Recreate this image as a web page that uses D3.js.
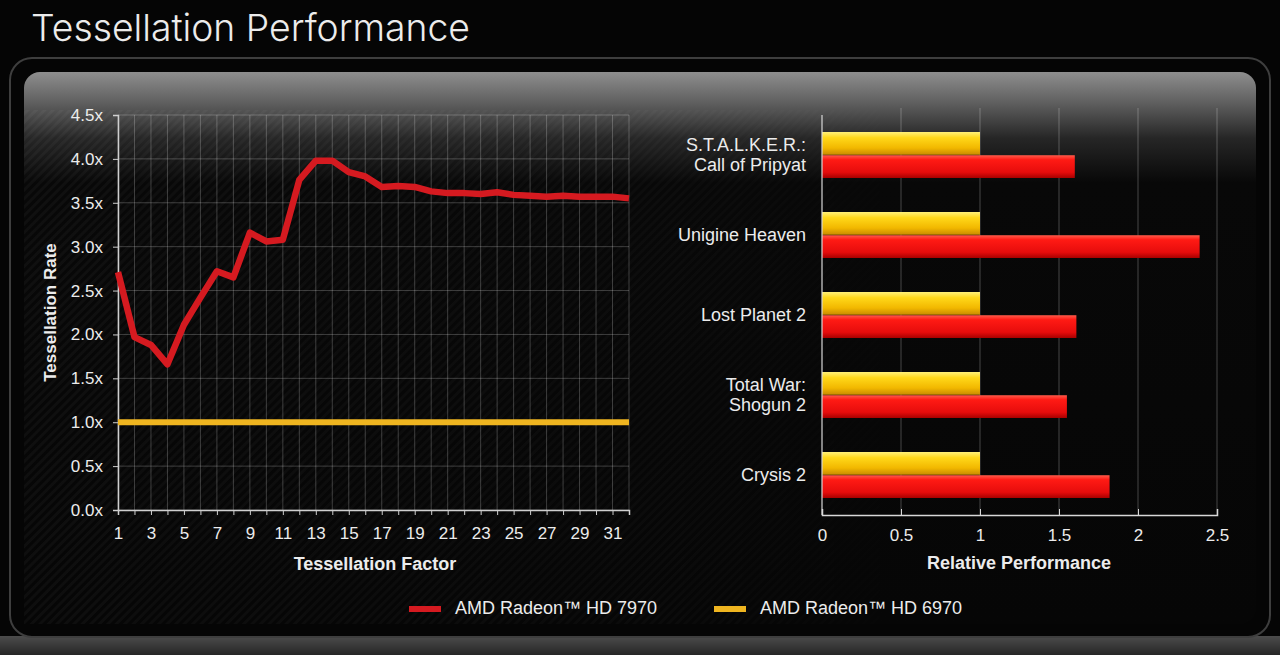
<!DOCTYPE html>
<html>
<head>
<meta charset="utf-8">
<script src="https://cdn.jsdelivr.net/npm/d3@7"></script>
<style>
  html, body { margin: 0; padding: 0; background: #050505; }
  svg { display: block; }
  text { font-family: "Liberation Sans", Arial, sans-serif; fill: #ececec; }
</style>
</head>
<body>
<svg id="chart" width="1280" height="655"></svg>
<script>
// tessellation factor sweep (left panel)
const factors = [1, 2, 3, 4, 5, 6, 7, 8, 9, 10, 11, 12, 13, 14, 15, 16,
  17, 18, 19, 20, 21, 22, 23, 24, 25, 26, 27, 28, 29, 30, 31, 32];
const rate7970 = [2.71, 1.97, 1.88, 1.66, 2.11, 2.42, 2.72, 2.65, 3.16, 3.06, 3.08, 3.76, 3.98, 3.98, 3.85, 3.80,
  3.68, 3.69, 3.68, 3.63, 3.61, 3.61, 3.60, 3.62, 3.59, 3.58, 3.57, 3.58, 3.57, 3.57, 3.57, 3.55];
const rate6970 = [1, 1, 1, 1, 1, 1, 1, 1, 1, 1, 1, 1, 1, 1, 1, 1,
  1, 1, 1, 1, 1, 1, 1, 1, 1, 1, 1, 1, 1, 1, 1, 1];
const rateTicks = [0, 0.5, 1, 1.5, 2, 2.5, 3, 3.5, 4, 4.5];
const factorTicks = [1, 3, 5, 7, 9, 11, 13, 15, 17, 19, 21, 23, 25, 27, 29, 31];

// games (right panel)
const games = ["S.T.A.L.K.E.R.: Call of Pripyat", "Unigine Heaven", "Lost Planet 2", "Total War: Shogun 2", "Crysis 2"];
const gameLines = [["S.T.A.L.K.E.R.:", "Call of Pripyat"], ["Unigine Heaven"], ["Lost Planet 2"], ["Total War:", "Shogun 2"], ["Crysis 2"]];
const perf7970 = [1.60, 2.39, 1.61, 1.55, 1.82];
const perf6970 = [1, 1, 1, 1, 1];
const perfTicks = [0, 0.5, 1, 1.5, 2, 2.5];

const series = ["AMD Radeon\u2122 HD 7970", "AMD Radeon\u2122 HD 6970"];
const RED = "#d51a20";
const GOLD = "#efb520";

const svg = d3.select("#chart");
const defs = svg.append("defs");

// backdrop gradients
const header = defs.append("linearGradient").attr("id", "hdr").attr("x1", 0).attr("y1", 0).attr("x2", 0).attr("y2", 1);
header.append("stop").attr("offset", 0).attr("stop-color", "#8e8e8e");
header.append("stop").attr("offset", 0.05).attr("stop-color", "#646464");
header.append("stop").attr("offset", 0.12).attr("stop-color", "#262626");
header.append("stop").attr("offset", 0.2).attr("stop-color", "#080808");
header.append("stop").attr("offset", 1).attr("stop-color", "#060606");

const foot = defs.append("linearGradient").attr("id", "foot").attr("x1", 0).attr("y1", 0).attr("x2", 0).attr("y2", 1);
foot.append("stop").attr("offset", 0).attr("stop-color", "#4c4c4c");
foot.append("stop").attr("offset", 1).attr("stop-color", "#262626");

const stripes = defs.append("pattern").attr("id", "carbon").attr("width", 6).attr("height", 6)
  .attr("patternUnits", "userSpaceOnUse").attr("patternTransform", "rotate(45)");
stripes.append("rect").attr("width", 3).attr("height", 6).attr("fill", "#ffffff").attr("opacity", 0.035);

const fade = defs.append("linearGradient").attr("id", "fade").attr("x1", 0).attr("y1", 0).attr("x2", 1).attr("y2", 0);
fade.append("stop").attr("offset", 0).attr("stop-color", "#fff").attr("stop-opacity", 1);
fade.append("stop").attr("offset", 0.55).attr("stop-color", "#fff").attr("stop-opacity", 0.6);
fade.append("stop").attr("offset", 0.75).attr("stop-color", "#fff").attr("stop-opacity", 0);
defs.append("mask").attr("id", "fadeMask").append("rect")
  .attr("x", 24).attr("y", 72).attr("width", 1232).attr("height", 560).attr("fill", "url(#fade)");

function barGrad(id, stops) {
  const g = defs.append("linearGradient").attr("id", id).attr("x1", 0).attr("y1", 0).attr("x2", 0).attr("y2", 1);
  stops.forEach(([o, c]) => g.append("stop").attr("offset", o).attr("stop-color", c));
}
barGrad("gYellow", [[0, "#fff07a"], [0.25, "#ffd81a"], [0.7, "#f2b800"], [1, "#c98a00"]]);
barGrad("gRed", [[0, "#ff5a4a"], [0.2, "#ff1a14"], [0.75, "#e60c0c"], [1, "#a80000"]]);

// frame
svg.append("rect").attr("x", 0).attr("y", 636).attr("width", 1280).attr("height", 19).attr("fill", "url(#foot)");
svg.append("rect").attr("x", 10).attr("y", 58).attr("width", 1260).attr("height", 579).attr("rx", 22)
  .attr("fill", "#050505").attr("stroke", "#3e3e3e").attr("stroke-width", 2);
svg.append("rect").attr("x", 24).attr("y", 72).attr("width", 1232).attr("height", 552).attr("rx", 16)
  .attr("fill", "url(#hdr)");
svg.append("rect").attr("x", 24).attr("y", 110).attr("width", 1232).attr("height", 514)
  .attr("fill", "url(#carbon)").attr("mask", "url(#fadeMask)");

svg.append("text").attr("x", 31).attr("y", 41).attr("font-size", 37.3).attr("font-weight", 300)
  .style("font-family", "Inter, 'Open Sans', sans-serif").attr("fill", "#f4f4f4")
  .text("Tessellation Performance");

// ---------- left: tessellation rate line chart ----------
const xL = d3.scaleLinear().domain([1, 32]).range([118, 629]);
const yL = d3.scaleLinear().domain([0, 4.5]).range([510, 115]);
const left = svg.append("g");

left.append("g").selectAll("line").data(factors).join("line")
  .attr("x1", d => xL(d)).attr("x2", d => xL(d)).attr("y1", yL(0)).attr("y2", yL(4.5))
  .attr("stroke", "#ffffff").attr("stroke-opacity", 0.22).attr("stroke-width", 1);
left.append("g").selectAll("line").data(rateTicks).join("line")
  .attr("x1", xL(1)).attr("x2", xL(32)).attr("y1", d => yL(d)).attr("y2", d => yL(d))
  .attr("stroke", "#ffffff").attr("stroke-opacity", 0.22).attr("stroke-width", 1);

const yAxisL = left.append("g").attr("transform", `translate(${xL(1)},0)`)
  .call(d3.axisLeft(yL).tickValues(rateTicks).tickSize(5).tickPadding(10).tickFormat(d => d3.format(".1f")(d) + "x"));
const xAxisL = left.append("g").attr("transform", `translate(0,${yL(0)})`)
  .call(d3.axisBottom(xL).tickValues(factors).tickSize(5).tickPadding(12).tickFormat(d => factorTicks.includes(d) ? d : ""));
[yAxisL, xAxisL].forEach(a => {
  a.select(".domain").attr("stroke", "#cfcfcf").attr("stroke-width", 1.5);
  a.selectAll(".tick line").attr("stroke", "#cfcfcf");
  a.selectAll(".tick text").attr("font-size", 17).attr("fill", "#ececec").style("font-family", "'Liberation Sans', Arial, sans-serif");
});

const lineL = d3.line().x((d, i) => xL(factors[i])).y(d => yL(d)).curve(d3.curveLinear);
left.append("path").datum(rate6970).attr("d", lineL).attr("fill", "none")
  .attr("stroke", GOLD).attr("stroke-width", 6);
left.append("path").datum(rate7970).attr("d", lineL).attr("fill", "none")
  .attr("stroke", RED).attr("stroke-width", 6.5).attr("stroke-linejoin", "round");

left.append("text").attr("transform", `translate(56,${yL(2.25)}) rotate(-90)`).attr("text-anchor", "middle")
  .attr("font-size", 17).attr("font-weight", "bold").text("Tessellation Rate");
left.append("text").attr("x", 375).attr("y", 570).attr("text-anchor", "middle")
  .attr("font-size", 18).attr("font-weight", "bold").text("Tessellation Factor");

// ---------- right: relative performance bars ----------
const xR = d3.scaleLinear().domain([0, 2.5]).range([822, 1217]);
const yR = d3.scaleBand().domain(games).range([115, 515]).paddingInner(0.425).paddingOuter(0.2125);
const ySub = d3.scaleBand().domain(["6970", "7970"]).range([0, yR.bandwidth()]).paddingInner(0.02);
const right = svg.append("g");

right.append("g").selectAll("line").data(perfTicks.slice(1)).join("line")
  .attr("x1", d => xR(d)).attr("x2", d => xR(d)).attr("y1", 108).attr("y2", 515)
  .attr("stroke", "#ffffff").attr("stroke-opacity", 0.25).attr("stroke-width", 1);

const groups = right.append("g").selectAll("g").data(games).join("g")
  .attr("transform", d => `translate(0,${yR(d)})`);
groups.append("rect").attr("x", xR(0)).attr("y", ySub("6970"))
  .attr("width", (d, i) => xR(perf6970[i]) - xR(0)).attr("height", ySub.bandwidth()).attr("fill", "url(#gYellow)");
groups.append("rect").attr("x", xR(0)).attr("y", ySub("7970"))
  .attr("width", (d, i) => xR(perf7970[i]) - xR(0)).attr("height", ySub.bandwidth()).attr("fill", "url(#gRed)");
groups.each(function (d, i) {
  const lines = gameLines[i];
  const c = yR.bandwidth() / 2;
  d3.select(this).selectAll("text").data(lines).join("text")
    .attr("x", 806).attr("y", (t, j) => c + (j - (lines.length - 1) / 2) * 20)
    .attr("dy", "0.35em").attr("text-anchor", "end").attr("font-size", 18).text(t => t);
});

const xAxisR = right.append("g").attr("transform", `translate(0,515)`)
  .call(d3.axisBottom(xR).tickValues(perfTicks).tickSize(-6).tickPadding(14).tickFormat(d3.format("")));
xAxisR.select(".domain").attr("stroke", "#d8d8d8").attr("stroke-width", 1.5);
xAxisR.selectAll(".tick line").attr("stroke", "#d8d8d8");
xAxisR.selectAll(".tick text").attr("font-size", 17).attr("fill", "#ececec").style("font-family", "'Liberation Sans', Arial, sans-serif");
right.append("line").attr("x1", xR(0)).attr("x2", xR(0)).attr("y1", 115).attr("y2", 515)
  .attr("stroke", "#d8d8d8").attr("stroke-width", 1.2);
right.append("text").attr("x", 1019).attr("y", 569).attr("text-anchor", "middle")
  .attr("font-size", 18).attr("font-weight", "bold").text("Relative Performance");

// ---------- legend ----------
const legendX = d3.scaleOrdinal().domain(series).range([409, 714]);
const legendC = d3.scaleOrdinal().domain(series).range([RED, GOLD]);
const legend = svg.append("g").selectAll("g").data(series).join("g")
  .attr("transform", d => `translate(${legendX(d)},607)`);
legend.append("rect").attr("width", 32).attr("height", 6).attr("y", -1).attr("fill", d => legendC(d));
legend.append("text").attr("x", 46).attr("y", 1).attr("dy", "0.35em").attr("font-size", 18).text(d => d);
</script>
</body>
</html>
